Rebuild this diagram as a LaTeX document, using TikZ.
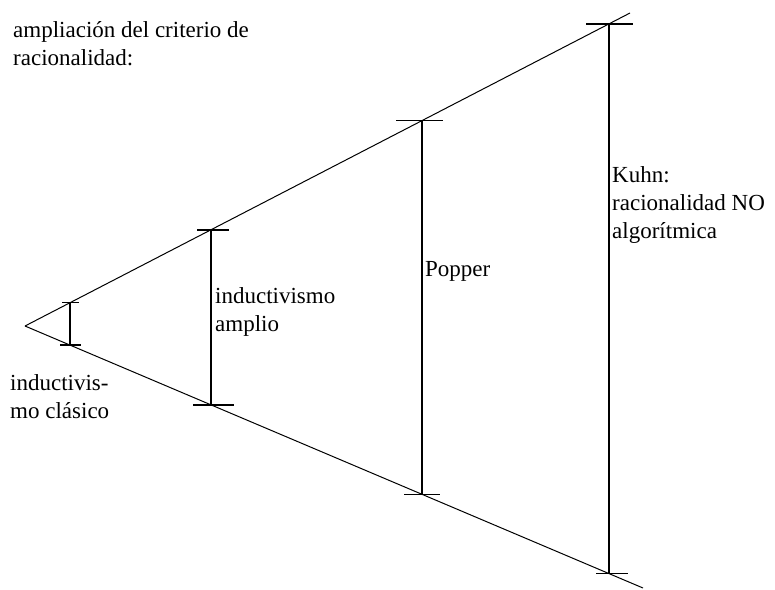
\documentclass[tikz,border=0pt]{standalone}
\usepackage{fontspec}
\setmainfont{Liberation Serif}
\begin{document}
\begin{tikzpicture}[x=1pt,y=-1pt,
  lbl/.style={anchor=base west,inner sep=0pt,font=\fontsize{23}{28}\selectfont},
  ray/.style={line width=1pt},
  bar/.style={line width=1.6pt},
  tickline/.style={line width=1.4pt}]
\useasboundingbox (0,0) rectangle (775,589);
\coordinate (O) at (25,326);
\coordinate (U) at (630,13);
\coordinate (L) at (643,588);
\draw[ray] (O) -- (U);
\draw[ray] (O) -- (L);
% measurement points
\coordinate (a1) at (70,302.7);  \coordinate (b1) at (70,345.1);
\coordinate (a2) at (211,229.8); \coordinate (b2) at (211,404.8);
\coordinate (a3) at (422,120.6); \coordinate (b3) at (422,494.3);
\coordinate (a4) at (609,23.8);  \coordinate (b4) at (609,573.6);
\draw[bar] (a1) -- (b1);
\draw[bar] (a2) -- (b2);
\draw[bar] (a3) -- (b3);
\draw[bar] (a4) -- (b4);
% ticks
\draw[tickline] ([xshift=-8pt]a1) -- ([xshift=9pt]a1);
\draw[tickline] ([xshift=-10pt]b1) -- ([xshift=11pt]b1);
\draw[tickline] ([xshift=-14pt]a2) -- ([xshift=18pt]a2);
\draw[tickline] ([xshift=-18pt]b2) -- ([xshift=23pt]b2);
\draw[tickline] ([xshift=-26pt]a3) -- ([xshift=21pt]a3);
\draw[tickline] ([xshift=-18pt]b3) -- ([xshift=18pt]b3);
\draw[tickline] ([xshift=-23pt]a4) -- ([xshift=24pt]a4);
\draw[tickline] ([xshift=-13pt]b4) -- ([xshift=19pt]b4);
% labels
\node[lbl] (t1) at (13,37) {ampliación del criterio de};
\node[lbl] (t2) at (13,65) {racionalidad:};
\node[lbl] (c1) at (10,390) {inductivis-};
\node[lbl] (c2) at (10,418) {mo clásico};
\node[lbl] (i1) at (215,303) {inductivismo};
\node[lbl] (i2) at (215,331) {amplio};
\node[lbl] (p1) at (425,276) {Popper};
\node[lbl] (k1) at (612,182) {Kuhn:};
\node[lbl] (k2) at (612,210) {racionalidad NO};
\node[lbl] (k3) at (612,238) {algorítmica};
\end{tikzpicture}
\end{document}
